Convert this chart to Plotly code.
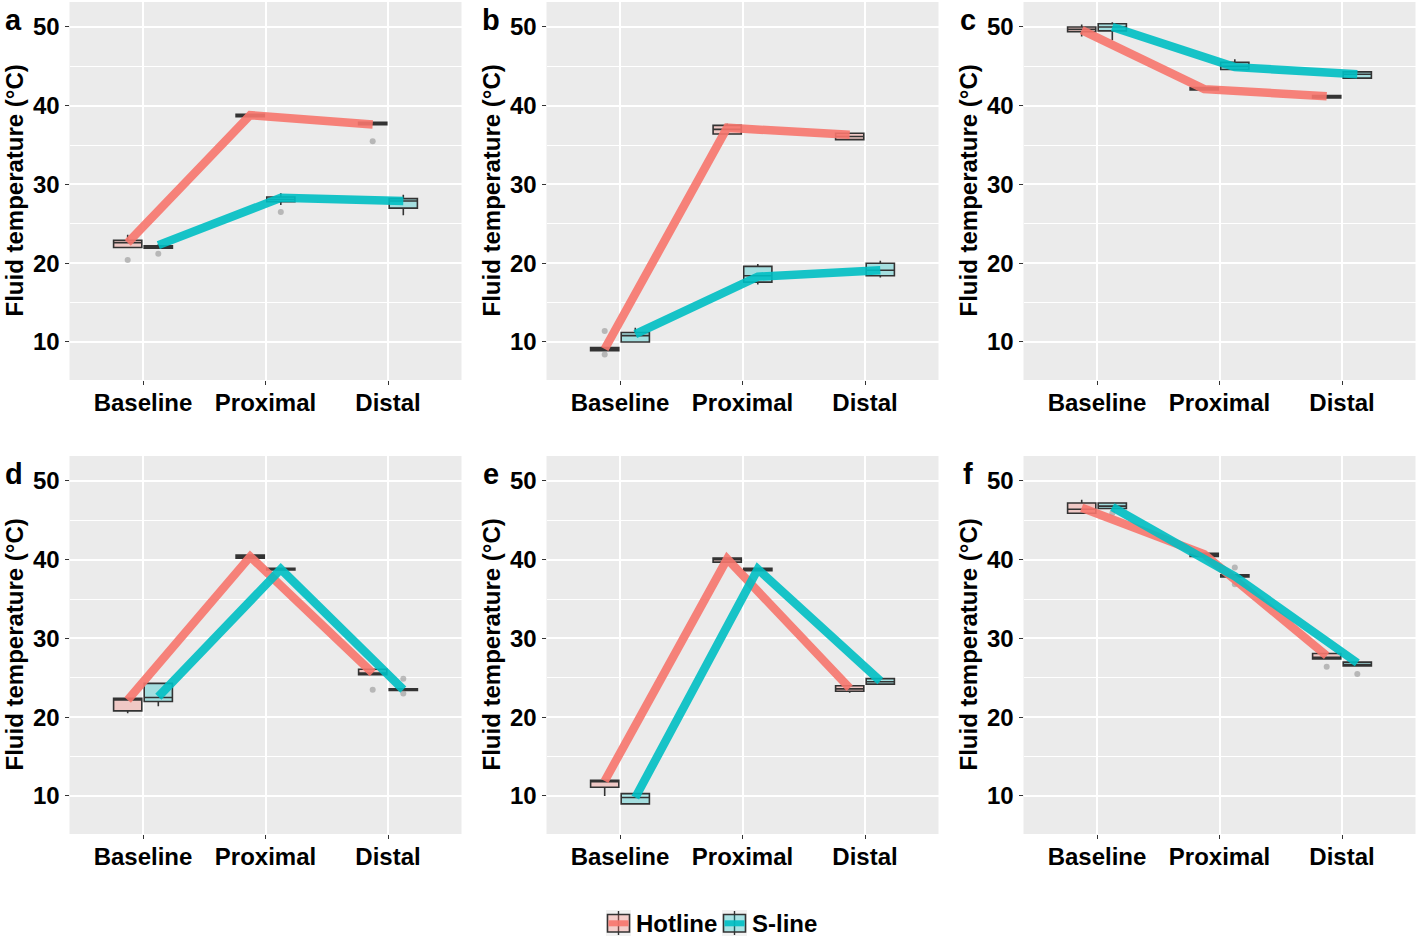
import plotly.graph_objects as go

# ---------------- data ----------------
locations = ["Baseline", "Proximal", "Distal"]
groups = ["Hotline", "S-line"]
panel_labels = ["a", "b", "c", "d", "e", "f"]
y_ticks = [10, 20, 30, 40, 50]

# per panel (a..f), per location (Baseline, Proximal, Distal)
hot_q1 = [[22.0, 38.6, 37.6], [8.9, 36.4, 35.7], [49.4, 42.0, 41.0],
          [20.8, 40.2, 25.4], [11.1, 39.7, 23.3], [45.9, 40.4, 27.4]]
hot_med = [[22.6, 38.7, 37.7], [9.1, 37.0, 36.1], [49.7, 42.1, 41.2],
           [22.2, 40.4, 25.6], [11.8, 40.0, 23.6], [46.4, 40.6, 27.6]]
hot_q3 = [[22.9, 38.9, 37.9], [9.3, 37.5, 36.5], [50.0, 42.3, 41.3],
          [22.4, 40.6, 26.1], [12.0, 40.2, 24.0], [47.2, 40.8, 28.1]]
hot_lo = [[22.0, 38.5, 37.5], [8.9, 36.3, 35.6], [48.8, 41.9, 40.9],
          [20.5, 40.1, 25.3], [10.0, 39.6, 23.1], [45.9, 40.3, 27.3]]
hot_hi = [[23.6, 39.0, 38.0], [9.4, 37.7, 36.6], [50.3, 42.3, 41.4],
          [22.4, 40.7, 26.2], [12.1, 40.3, 24.1], [47.6, 40.9, 28.1]]
hot_line = [[22.6, 38.8, 37.6], [9.1, 37.2, 36.3], [49.6, 42.1, 41.2],
            [22.2, 40.4, 25.6], [11.9, 40.1, 23.7], [46.6, 40.7, 27.8]]

sl_q1 = [[21.9, 27.8, 27.0], [10.0, 17.6, 18.4], [49.5, 44.6, 43.5],
         [22.0, 38.7, 23.4], [9.0, 38.6, 24.2], [46.5, 37.8, 26.5]]
sl_med = [[22.0, 28.1, 27.9], [10.8, 18.4, 19.1], [50.0, 45.0, 44.0],
          [22.5, 38.8, 23.5], [9.8, 38.8, 24.5], [46.8, 38.0, 26.7]]
sl_q3 = [[22.2, 28.4, 28.2], [11.2, 19.6, 20.0], [50.4, 45.5, 44.3],
         [24.3, 38.9, 23.6], [10.3, 38.9, 24.9], [47.2, 38.1, 27.0]]
sl_lo = [[21.9, 27.4, 26.1], [9.9, 17.3, 18.2], [48.3, 44.5, 43.4],
         [21.4, 38.6, 23.3], [9.0, 38.5, 24.1], [46.4, 37.7, 26.4]]
sl_hi = [[22.4, 28.9, 28.7], [11.8, 19.9, 20.3], [50.6, 45.9, 44.4],
         [24.3, 39.0, 23.7], [10.3, 39.0, 25.0], [47.3, 38.2, 27.1]]
sl_line = [[22.3, 28.3, 27.9], [11.0, 18.3, 19.1], [50.0, 44.9, 44.0],
           [22.6, 38.8, 23.5], [9.8, 38.8, 24.6], [46.7, 37.9, 26.9]]

# outliers: (panel index, location index, value)
hot_out_panel = [0, 0, 1, 1, 3, 5]
hot_out_loc = [0, 2, 0, 0, 2, 2]
hot_out_val = [20.4, 35.5, 11.4, 8.4, 23.5, 26.4]
sl_out_panel = [0, 0, 3, 3, 5, 5, 5, 5]
sl_out_loc = [0, 1, 2, 2, 0, 1, 1, 2]
sl_out_val = [21.2, 26.5, 24.9, 23.0, 45.9, 39.0, 36.9, 25.5]

# ---------------- styling ----------------
W, H = 1418, 939
FONT = "Liberation Sans, Arial, sans-serif"
HOT = "#F8766D"
SL = "#00BFC4"
HOT_FILL = "rgba(248,118,109,0.3)"
SL_FILL = "rgba(0,191,196,0.3)"
DODGE = 0.125
BOXW = 0.23

col_left = [69.5, 546.5, 1023.5]
col_w = 392.0
row_top = [2.0, 456.0]
row_h = 378.0


def px(x):
    return x / W


def py(y):
    return 1 - y / H


fig = go.Figure()
layout = dict(
    width=W, height=H, autosize=False,
    margin=dict(l=0, r=0, t=0, b=0),
    paper_bgcolor="white", plot_bgcolor="#EBEBEB",
    font=dict(family=FONT, color="black"),
    showlegend=False,
)
annotations = []
shapes = []

stat_sets = [
    ("Hotline", -DODGE, HOT, HOT_FILL, hot_q1, hot_med, hot_q3, hot_lo, hot_hi, hot_line,
     hot_out_panel, hot_out_loc, hot_out_val),
    ("S-line", DODGE, SL, SL_FILL, sl_q1, sl_med, sl_q3, sl_lo, sl_hi, sl_line,
     sl_out_panel, sl_out_loc, sl_out_val),
]

for p in range(6):
    r, c = divmod(p, 3)
    idx = p + 1
    xa = "x" if idx == 1 else f"x{idx}"
    ya = "y" if idx == 1 else f"y{idx}"
    x0 = px(col_left[c])
    x1 = px(col_left[c] + col_w)
    y1 = py(row_top[r])
    y0 = py(row_top[r] + row_h)
    layout["xaxis" if idx == 1 else f"xaxis{idx}"] = dict(
        domain=[x0, x1], anchor=ya, range=[0.4, 3.6],
        tickmode="array", tickvals=[1, 2, 3], ticktext=locations,
        showgrid=True, gridcolor="white", gridwidth=1.6, zeroline=False,
        ticks="outside", ticklen=4, tickwidth=1.2, tickcolor="#333333",
        tickfont=dict(size=24, family=FONT, weight="bold", color="black"),
        ticklabelstandoff=-3,
        showline=False, fixedrange=True,
    )
    layout["yaxis" if idx == 1 else f"yaxis{idx}"] = dict(
        domain=[y0, y1], anchor=xa, range=[5.17, 53.17],
        tickmode="array", tickvals=y_ticks,
        showgrid=True, gridcolor="white", gridwidth=1.6, zeroline=False,
        ticks="outside", ticklen=4, tickwidth=1.2, tickcolor="#333333",
        tickfont=dict(size=24, family=FONT, weight="bold", color="black"),
        minor=dict(tickvals=[15, 25, 35, 45], showgrid=True,
                   gridcolor="white", gridwidth=0.8, ticks=""),
        showline=False, fixedrange=True,
    )
    # y title
    annotations.append(dict(
        text="Fluid temperature (°C)", textangle=-90,
        x=px(col_left[c] - 55), y=(y0 + y1) / 2, xref="paper", yref="paper",
        xanchor="center", yanchor="middle", showarrow=False,
        font=dict(size=24, family=FONT, weight="bold", color="black"),
    ))
    # panel label
    annotations.append(dict(
        text=panel_labels[p], x=px(col_left[c] - 56), y=py(row_top[r] + 18),
        xref="paper", yref="paper", xanchor="center", yanchor="middle",
        showarrow=False, font=dict(size=29, family=FONT, weight="bold", color="black"),
    ))

    for (name, off, col, fill, q1, med, q3, lo, hi, line,
         op, ol, ov) in stat_sets:
        xs = [i + 1 + off for i in range(3)]
        fig.add_trace(go.Box(
            x=xs, q1=q1[p], median=med[p], q3=q3[p],
            lowerfence=lo[p], upperfence=hi[p],
            width=BOXW, fillcolor=fill, whiskerwidth=0,
            line=dict(color="#333333", width=1.6),
            boxpoints=False, name=name, legendgroup=name,
            showlegend=False, xaxis=xa, yaxis=ya, hoverinfo="skip",
        ))
        oxs = [ol[k] + 1 + off for k in range(len(ov)) if op[k] == p]
        oys = [ov[k] for k in range(len(ov)) if op[k] == p]
        if oxs:
            fig.add_trace(go.Scatter(
                x=oxs, y=oys, mode="markers",
                marker=dict(color="rgba(140,140,140,0.55)", size=6),
                showlegend=False, xaxis=xa, yaxis=ya, hoverinfo="skip",
            ))

    for (name, off, col, fill, q1, med, q3, lo, hi, line,
         op, ol, ov) in stat_sets:
        xs = [i + 1 + off for i in range(3)]
        fig.add_trace(go.Scatter(
            x=xs, y=line[p], mode="lines",
            line=dict(color=col, width=8.5), opacity=0.9,
            showlegend=False, xaxis=xa, yaxis=ya, hoverinfo="skip",
        ))

# ---------------- custom legend (ggplot-like keys) ----------------
legend_items = [(groups[0], HOT, HOT_FILL, 606.0, 634.0),
                (groups[1], SL, SL_FILL, 722.0, 750.0)]
for name, col, fill, kx, tx in legend_items:
    kw = 25.0
    shapes.append(dict(type="rect", xref="paper", yref="paper",
                       x0=px(kx), x1=px(kx + kw), y0=py(936), y1=py(910),
                       fillcolor="#F2F2F2", line=dict(width=0), layer="above"))
    shapes.append(dict(type="line", xref="paper", yref="paper",
                       x0=px(kx + kw / 2), x1=px(kx + kw / 2), y0=py(935), y1=py(911),
                       line=dict(color="#333333", width=1.4), layer="above"))
    shapes.append(dict(type="rect", xref="paper", yref="paper",
                       x0=px(kx + 1.5), x1=px(kx + kw - 1.5), y0=py(932), y1=py(914.5),
                       fillcolor=fill, line=dict(color="#333333", width=1.6), layer="above"))
    shapes.append(dict(type="line", xref="paper", yref="paper",
                       x0=px(kx + 2.5), x1=px(kx + kw - 2.5), y0=py(923.3), y1=py(923.3),
                       line=dict(color=col, width=6), opacity=0.9, layer="above"))
    annotations.append(dict(
        text=name, x=px(tx), y=py(923.5), xref="paper", yref="paper",
        xanchor="left", yanchor="middle", showarrow=False,
        font=dict(size=24, family=FONT, weight="bold", color="black"),
    ))

layout["annotations"] = annotations
layout["shapes"] = shapes
fig.update_layout(**layout)
fig.write_html("out.html", config={"displayModeBar": False},
               post_script="document.body.style.margin='0';document.body.style.overflow='hidden';")
